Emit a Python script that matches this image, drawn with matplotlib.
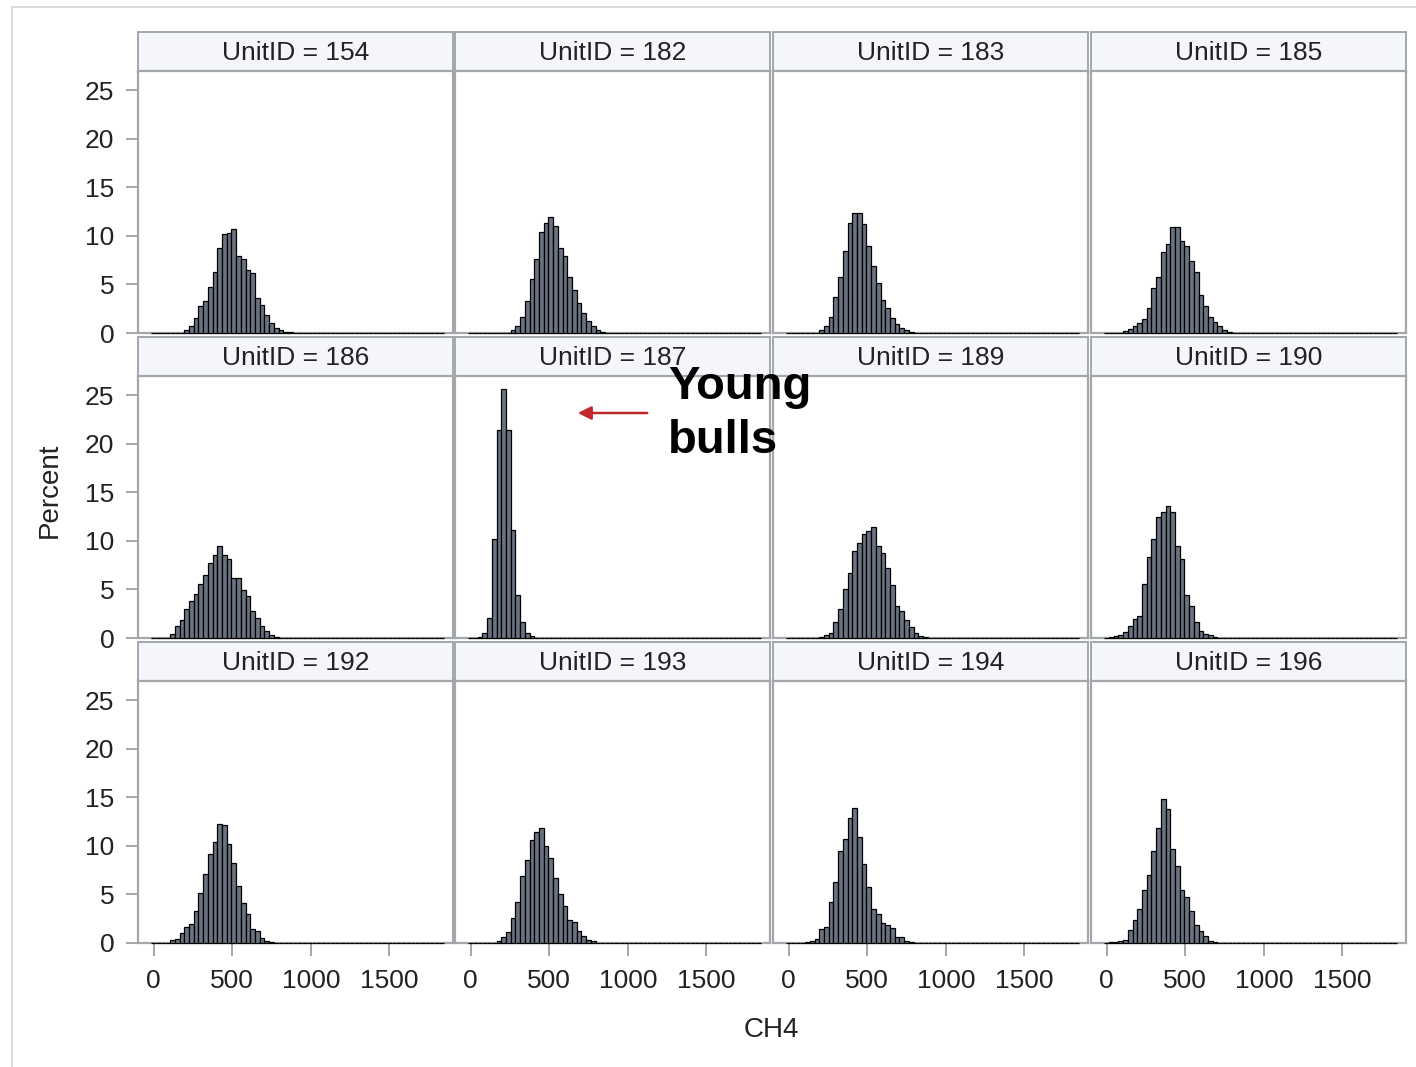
import matplotlib.pyplot as plt
from matplotlib.patches import FancyArrowPatch
from matplotlib.lines import Line2D
import numpy as np

plt.rcParams['font.family'] = ['Liberation Sans', 'DejaVu Sans']

W, H = 1416, 1067
BIN = 30
NBINS = 62  # bin centres 0 .. 1830

# percent of records per CH4 bin
unit_ids = [154, 182, 183, 185, 186, 187, 189, 190, 192, 193, 194, 196]
first_bin = [7, 9, 7, 4, 4, 2, 7, 1, 4, 6, 4, 1]  # index of first non-empty bin
pct_154 = [0.35, 0.7, 1.5, 2.8, 3.3, 4.7, 6.3, 8.8, 10.2, 10.3, 10.7, 7.9, 7.6,
           6.5, 6.2, 3.6, 2.9, 1.9, 1.0, 0.5, 0.3, 0.15, 0.1]
pct_182 = [0.35, 0.7, 1.6, 3.3, 5.6, 7.6, 10.4, 11.3, 12.0, 11.0, 8.8, 7.9, 5.8,
           4.4, 3.1, 2.1, 1.2, 0.7, 0.35, 0.1]
pct_183 = [0.3, 0.7, 1.6, 3.7, 5.8, 8.5, 11.3, 12.4, 12.4, 11.2, 9.0, 6.9, 5.2,
           3.4, 2.6, 1.5, 0.9, 0.5, 0.3, 0.1]
pct_185 = [0.2, 0.4, 0.7, 1.0, 1.4, 2.6, 4.6, 5.8, 8.3, 9.2, 10.9, 10.9, 9.5, 9.0,
           7.4, 6.3, 3.9, 2.8, 1.6, 1.1, 0.7, 0.35, 0.15]
pct_186 = [0.4, 1.2, 1.9, 3.0, 3.8, 4.5, 5.6, 6.5, 7.7, 8.6, 9.5, 8.6, 8.1, 6.2,
           6.2, 4.9, 4.3, 2.8, 2.1, 1.2, 0.7, 0.3, 0.15]
pct_187 = [0.1, 0.5, 2.1, 10.2, 21.4, 25.7, 21.4, 11.1, 4.4, 1.6, 0.5, 0.2]
pct_189 = [0.1, 0.3, 0.5, 1.6, 3.0, 5.0, 6.7, 9.0, 9.8, 10.7, 11.0, 11.4, 9.5, 8.8,
           7.2, 5.5, 3.3, 2.8, 1.9, 1.1, 0.5, 0.2, 0.1]
pct_190 = [0.1, 0.25, 0.35, 0.6, 1.2, 2.0, 2.3, 5.6, 8.3, 10.2, 12.5, 13.0, 13.6,
           13.0, 9.5, 8.1, 4.4, 3.3, 1.6, 0.7, 0.4, 0.3, 0.15]
pct_192 = [0.3, 0.4, 1.0, 1.6, 2.0, 3.3, 5.2, 7.1, 9.2, 10.4, 12.3, 12.2, 10.2, 8.2,
           5.9, 4.1, 3.0, 1.4, 1.2, 0.5, 0.25, 0.1]
pct_193 = [0.2, 0.6, 1.1, 2.6, 4.2, 6.9, 8.6, 10.6, 11.4, 11.9, 10.0, 8.8, 6.7, 5.0,
           3.8, 2.4, 2.2, 1.2, 0.7, 0.3, 0.2]
pct_194 = [0.1, 0.2, 0.4, 1.4, 1.7, 4.2, 6.3, 9.5, 10.7, 12.9, 13.9, 10.9, 8.1, 5.8,
           3.5, 3.0, 2.1, 1.9, 1.5, 0.6, 0.6, 0.25, 0.1]
pct_196 = [0.1, 0.15, 0.25, 0.35, 1.3, 2.4, 3.5, 5.5, 7.0, 9.5, 11.8, 14.8, 13.8,
           9.7, 7.9, 5.5, 4.7, 3.3, 1.9, 1.2, 0.7, 0.2, 0.1]
series = [pct_154, pct_182, pct_183, pct_185, pct_186, pct_187,
          pct_189, pct_190, pct_192, pct_193, pct_194, pct_196]

x_ticks = [0, 500, 1000, 1500]
y_ticks = [0, 5, 10, 15, 20, 25]

BORDER = '#a3a7ab'
TXT = '#222222'


def box(x, y, w, h):
    # pixel box with top-left origin -> figure fraction
    return [x / W, 1 - (y + h) / H, w / W, h / H]


fig = plt.figure(figsize=(W / 100, H / 100), dpi=100)

col_x = [138, 455, 773, 1091]
row_y = [71, 376, 681]
pw, ph, sh = 315, 262, 39
centres = np.arange(NBINS) * BIN

for i, uid in enumerate(unit_ids):
    r, c = divmod(i, 4)
    x0, y0 = col_x[c], row_y[r]

    st = fig.add_axes(box(x0, y0 - sh, pw, sh))
    st.set_facecolor('#f5f6fb')
    st.set_xticks([])
    st.set_yticks([])
    for s in st.spines.values():
        s.set_color(BORDER)
        s.set_linewidth(1.4)
    st.text(0.5, 0.47, f'UnitID = {uid}', ha='center', va='center',
            fontsize=19, color=TXT, transform=st.transAxes)

    ax = fig.add_axes(box(x0, y0, pw, ph))
    heights = np.zeros(NBINS)
    vals = series[i]
    heights[first_bin[i]:first_bin[i] + len(vals)] = vals
    ax.bar(centres, heights, width=BIN, facecolor='#6b7382', edgecolor='black',
           linewidth=0.9, zorder=3, clip_on=False)
    ax.set_xlim(-100, 1905)
    ax.set_ylim(0, 27)
    for s in ax.spines.values():
        s.set_color(BORDER)
        s.set_linewidth(1.6)
    ax.set_xticks(x_ticks)
    ax.set_yticks(y_ticks)
    ax.tick_params(colors=BORDER, labelcolor=TXT, labelsize=19, length=9, width=1.4)
    ax.tick_params(axis='y', pad=8)
    ax.tick_params(axis='x', pad=10)
    if c != 0:
        ax.tick_params(axis='y', left=False, labelleft=False)
    if r != 2:
        ax.tick_params(axis='x', bottom=False, labelbottom=False)

fig.text(50 / W, 1 - 490 / H, 'Percent', rotation=90, ha='center', va='center',
         fontsize=20, color=TXT)
fig.text(771 / W, 1 - 1030 / H, 'CH4', ha='center', va='center',
         fontsize=20, color=TXT)

# annotation
fig.text(668 / W, 1 - 365 / H, 'Young\nbulls', ha='left', va='top',
         fontsize=34, fontweight='bold', color='black', linespacing=1.3)
fig.add_artist(FancyArrowPatch(posA=(650 / W, 1 - 413 / H), posB=(575 / W, 1 - 413 / H),
                               transform=fig.transFigure, arrowstyle='-|>',
                               mutation_scale=20, color='#c0282b', lw=1.8))

# outer frame
fig.add_artist(Line2D([12 / W, 12 / W], [0, 1 - 7 / H], transform=fig.transFigure,
                      color='#d4d4d4', lw=1.2))
fig.add_artist(Line2D([12 / W, 1], [1 - 7 / H, 1 - 7 / H], transform=fig.transFigure,
                      color='#d4d4d4', lw=1.2))

fig.savefig('out.png', dpi=100)
